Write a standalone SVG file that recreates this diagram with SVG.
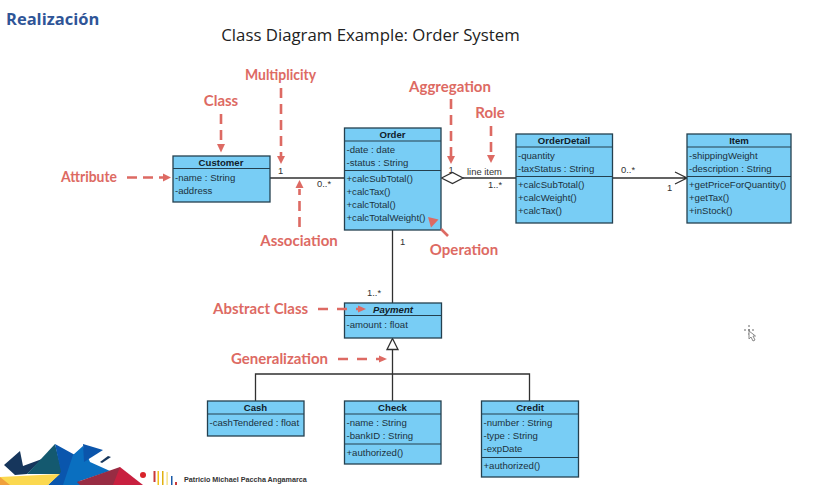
<svg xmlns="http://www.w3.org/2000/svg" width="815" height="485" viewBox="0 0 815 485">
<style>
text{font-family:"Liberation Sans",Arial,sans-serif}
.box{fill:#78cdf5;stroke:#24404f;stroke-width:1.3}
.sep{stroke:#24404f;stroke-width:1.2;fill:none}
.t{font-size:9.6px;font-weight:bold;fill:#10202a;text-anchor:middle}
.m{font-size:9.6px;fill:#1c3240}
.lab{font-size:9.4px;fill:#333}
.c{stroke:#303030;stroke-width:1.3;fill:none}
.call{font-family:"Lato","Liberation Sans",sans-serif;font-size:15px;font-weight:bold;fill:#dd6a63}
.d{stroke:#dd6a63;stroke-width:2.6;fill:none;stroke-dasharray:10 6}
.w{stroke-dasharray:10 9}
.ah{fill:#dd6a63}
</style>
<rect width="815" height="485" fill="#fff"/>
<text x="6" y="25" font-size="16.5" font-weight="bold" fill="#2f5597" style="font-family:'Open Sans','Liberation Sans',sans-serif">Realización</text>
<text x="370.500" y="41" font-size="16.800" fill="#222" text-anchor="middle" style="font-family:'Open Sans','Liberation Sans',sans-serif">Class Diagram Example: Order System</text>

<g id="connectors">
<path class="c" d="M270 178H344.500"/>
<path class="c" d="M463 178H516"/>
<text class="lab" x="451" y="172.500" text-anchor="middle">1</text>
<path class="c" style="fill:#fff" d="M441.500 178L452.500 172.500L463 178L452.500 183.500Z"/>
<path class="c" d="M612.500 178H687M675 172L687 178L675 184"/>
<path class="c" d="M392.500 230V303"/>
<path class="c" d="M392.500 350V401M255.500 401V374H529.500V401"/>
<path class="c" style="fill:#fff" d="M392.500 338.500L398 349.500H387Z"/>
<text class="lab" x="278" y="174">1</text>
<text class="lab" x="317" y="187">0..*</text>
<text class="lab" x="467" y="175">line item</text>
<text class="lab" x="488" y="188">1..*</text>
<text class="lab" x="621" y="173">0..*</text>
<text class="lab" x="667" y="191">1</text>
<text class="lab" x="400" y="245">1</text>
<text class="lab" x="367" y="296">1..*</text>
</g>

<g id="Customer">
<rect class="box" x="173" y="156" width="97" height="46"/><path class="sep" d="M173 168.500H270"/>
<text class="t" x="221" y="165.500">Customer</text>
<text class="m" x="175" y="181">-name : String</text><text class="m" x="175" y="194">-address</text>
</g>
<g id="Order">
<rect class="box" x="344.500" y="128" width="96.500" height="102"/><path class="sep" d="M344.500 141H441M344.500 170.500H441"/>
<text class="t" x="392.500" y="138">Order</text>
<text class="m" x="346.500" y="153">-date : date</text><text class="m" x="346.500" y="166">-status : String</text>
<text class="m" x="346.500" y="182">+calcSubTotal()</text><text class="m" x="346.500" y="195">+calcTax()</text><text class="m" x="346.500" y="208">+calcTotal()</text><text class="m" x="346.500" y="221">+calcTotalWeight()</text>
</g>
<g id="OrderDetail">
<rect class="box" x="516" y="134" width="96.500" height="89"/><path class="sep" d="M516 147H612.500M516 176.500H612.500"/>
<text class="t" x="564" y="144">OrderDetail</text>
<text class="m" x="518" y="159">-quantity</text><text class="m" x="518" y="172">-taxStatus : String</text>
<text class="m" x="518" y="188">+calcSubTotal()</text><text class="m" x="518" y="201">+calcWeight()</text><text class="m" x="518" y="214">+calcTax()</text>
</g>
<g id="Item">
<rect class="box" x="687" y="134" width="104" height="89"/><path class="sep" d="M687 147H791M687 176.500H791"/>
<text class="t" x="739" y="144">Item</text>
<text class="m" x="689" y="159">-shippingWeight</text><text class="m" x="689" y="172">-description : String</text>
<text class="m" x="689" y="188">+getPriceForQuantity()</text><text class="m" x="689" y="201">+getTax()</text><text class="m" x="689" y="214">+inStock()</text>
</g>
<g id="Payment">
<rect class="box" x="344.500" y="303" width="97" height="35"/><path class="sep" d="M344.500 315.500H441.500"/>
<text class="t" x="393" y="313" font-style="italic">Payment</text>
<text class="m" x="346.500" y="328">-amount : float</text>
</g>
<g id="Cash">
<rect class="box" x="207.500" y="401" width="96.500" height="35"/><path class="sep" d="M207.500 414H304"/>
<text class="t" x="255.500" y="411">Cash</text>
<text class="m" x="209.500" y="426">-cashTendered : float</text>
</g>
<g id="Check">
<rect class="box" x="344.500" y="401" width="96.500" height="63"/><path class="sep" d="M344.500 414H441M344.500 444H441"/>
<text class="t" x="392.500" y="411">Check</text>
<text class="m" x="346.500" y="426">-name : String</text><text class="m" x="346.500" y="439">-bankID : String</text>
<text class="m" x="346.500" y="456">+authorized()</text>
</g>
<g id="Credit">
<rect class="box" x="481.500" y="401" width="97" height="76"/><path class="sep" d="M481.500 414H578.500M481.500 457.500H578.500"/>
<text class="t" x="530" y="411">Credit</text>
<text class="m" x="483.500" y="426">-number : String</text><text class="m" x="483.500" y="439">-type : String</text><text class="m" x="483.500" y="452">-expDate</text>
<text class="m" x="483.500" y="469">+authorized()</text>
</g>

<g id="callouts">
<text class="call" x="61" y="182" textLength="56" lengthAdjust="spacingAndGlyphs">Attribute</text>
<path class="d" d="M127 177.500H164"/><path class="ah" d="M163 173.500L171 177.500L163 181.500Z"/>
<text class="call" x="221" y="106" text-anchor="middle">Class</text>
<path class="d" d="M221 114V145"/><path class="ah" d="M217 144L221 152.500L225 144Z"/>
<text class="call" x="245" y="80" textLength="71" lengthAdjust="spacingAndGlyphs">Multiplicity</text>
<path class="d" d="M281 88V157"/><path class="ah" d="M277 156L281 164L285 156Z"/>
<text class="call" x="450" y="92" text-anchor="middle">Aggregation</text>
<path class="d" d="M451 99V158"/><path class="ah" d="M447 156L451 164L455 156Z"/>
<text class="call" x="490" y="118" text-anchor="middle">Role</text>
<path class="d" d="M491 126V156"/><path class="ah" d="M487 155L491 163L495 155Z"/>
<text class="call" x="299" y="246" text-anchor="middle">Association</text>
<path class="d" d="M299.500 227V189"/><path class="ah" d="M295.500 188L299.500 180L303.500 188Z"/>
<text class="call" x="464" y="255" text-anchor="middle">Operation</text>
<path class="d" style="stroke-dasharray:none" d="M448 236L441 229"/><path class="ah" d="M428 217L438.500 219.500L431 227.500Z"/>
<text class="call" x="213" y="314">Abstract Class</text>
<path class="d w" d="M318 309H360"/><path class="ah" d="M358 305.500L366 309L358 312.500Z"/>
<text class="call" x="231" y="364">Generalization</text>
<path class="d w" d="M338 359H381"/><path class="ah" d="M379 355.500L387 359L379 362.500Z"/>
</g>

<g id="footer">
<path fill="#16365c" d="M4 465L20 451L23 466L42 459L27 474L15 475Z"/>
<path fill="#14596f" d="M27 474L55 444L62 472L60 474Z"/>
<path fill="#0a56ad" d="M55 444L75 455L80 485H48L61 472Z"/>
<path fill="#0a6fc0" d="M73 455L83 446L90 462L110 471L77 482L80 485H63Z"/>
<path fill="#0b55ab" d="M83 444L103 450L84 462Z"/>
<path fill="#16365c" d="M100 462L108 456L111 457L102 463Z"/>
<path fill="#fbd84f" d="M0 477L60 474L48 485H0Z"/>
<path fill="#f0a03c" d="M0 477L10 485H0Z"/>
<path fill="#982c43" d="M77 482L120 467L122 485H80Z"/>
<path fill="#c8203f" d="M120 467L143 485H113Z"/>
<circle cx="143" cy="475" r="3" fill="#d8232a"/>
<rect x="153.500" y="471" width="2" height="11" fill="#c93a3a"/>
<rect x="157.500" y="471" width="1.500" height="14" fill="#f2c21a"/>
<rect x="162" y="471" width="1.500" height="14" fill="#e0b010"/>
<rect x="166.500" y="472" width="1.200" height="13" fill="#f6dc6a"/>
<rect x="171" y="476" width="1.500" height="9" fill="#1a5aa8"/>
<rect x="175" y="482" width="2" height="3" fill="#c93a3a"/>
<text x="184" y="482" font-size="7.200" font-weight="bold" fill="#333">Patricio Michael Paccha Angamarca</text>
</g>
<g id="cursor" fill="none" stroke="#666" stroke-width="1">
<path d="M749 325V335M744 330H754" stroke-dasharray="2 2"/>
<path d="M749 331L749 339L751 337L753 341L755 340L753 336L755.500 336Z" fill="#fff" stroke="#888"/>
</g>
</svg>
